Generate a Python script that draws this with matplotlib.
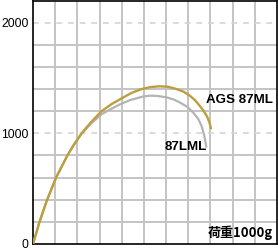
import matplotlib
matplotlib.use("Agg")
import matplotlib.pyplot as plt

# gold curve (AGS 87ML)
ags_x = [0, 0.28, 0.62, 1.04, 1.55, 1.85, 2.19, 2.6, 3.09, 3.54, 4.07, 4.45, 4.9, 5.3, 5.72, 6.1, 6.47, 6.8, 7.07, 7.3, 7.52, 7.7, 7.85, 7.96, 8.03]
ags_y = [0, 191, 391, 600, 800, 900, 1000, 1097, 1200, 1264, 1324, 1366, 1400, 1418, 1425, 1420, 1400, 1375, 1340, 1300, 1248, 1200, 1150, 1095, 1036]

# grey curve (87LML)
lml_x = [0, 0.28, 0.62, 1.04, 1.55, 1.85, 2.19, 2.6, 3.09, 3.47, 3.9, 4.37, 4.97, 5.27, 5.6, 6.02, 6.35, 6.62, 6.95, 7.22, 7.45, 7.6, 7.72, 7.82]
lml_y = [0, 191, 391, 600, 800, 898, 995, 1085, 1172, 1215, 1260, 1300, 1333, 1340, 1338, 1325, 1305, 1279, 1240, 1188, 1130, 1067, 980, 870]

yticks = [0, 1000, 2000]
ytick_labels = ["0", "1000", "2000"]

plt.rcParams['font.family'] = ['Liberation Sans', 'Noto Sans CJK JP', 'DejaVu Sans']

fig = plt.figure(figsize=(2.78, 2.5), dpi=100)
ax = fig.add_axes([33 / 278, 6 / 250, 244 / 278, 243.5 / 250])

grid_c = "#c4c4c4"
for gx in range(1, 11):
    ax.axvline(gx, color=grid_c, lw=1.4, zorder=1)
for gy in [200, 400, 600, 800, 1200, 1400, 1600, 1800]:
    ax.axhline(gy, color=grid_c, lw=1.4, zorder=1)
for gy in [1000, 2000]:
    ax.axhline(gy, color="#d4d4d4", lw=1.2, ls=(0, (3.5, 3.5)), zorder=1)

ax.plot(lml_x, lml_y, color="#b4b4b4", lw=1.6, zorder=3, solid_capstyle="butt")
ax.plot(ags_x, ags_y, color="#bc9f3c", lw=1.7, zorder=4, solid_capstyle="butt")

ax.set_xlim(0, 11)
ax.set_ylim(0, 2200)
ax.set_xticks([])
ax.set_yticks(yticks)
ax.set_yticklabels(ytick_labels)
ax.tick_params(axis="y", length=0, pad=3, labelsize=8.7)
for s in ax.spines.values():
    s.set_color("black")
    s.set_linewidth(1.2)

ax.text(7.8, 1305, "AGS 87ML", fontsize=9.6, fontweight="bold", ha="left", va="center")
ax.text(5.95, 880, "87LML", fontsize=9.6, fontweight="bold", ha="left", va="center")
ax.text(10.8, 100, "荷重1000g", fontsize=9.4, ha="right", va="center",
        family=['Noto Sans CJK JP', 'DejaVu Sans'], fontweight="bold")

fig.savefig("out.png", dpi=100)
